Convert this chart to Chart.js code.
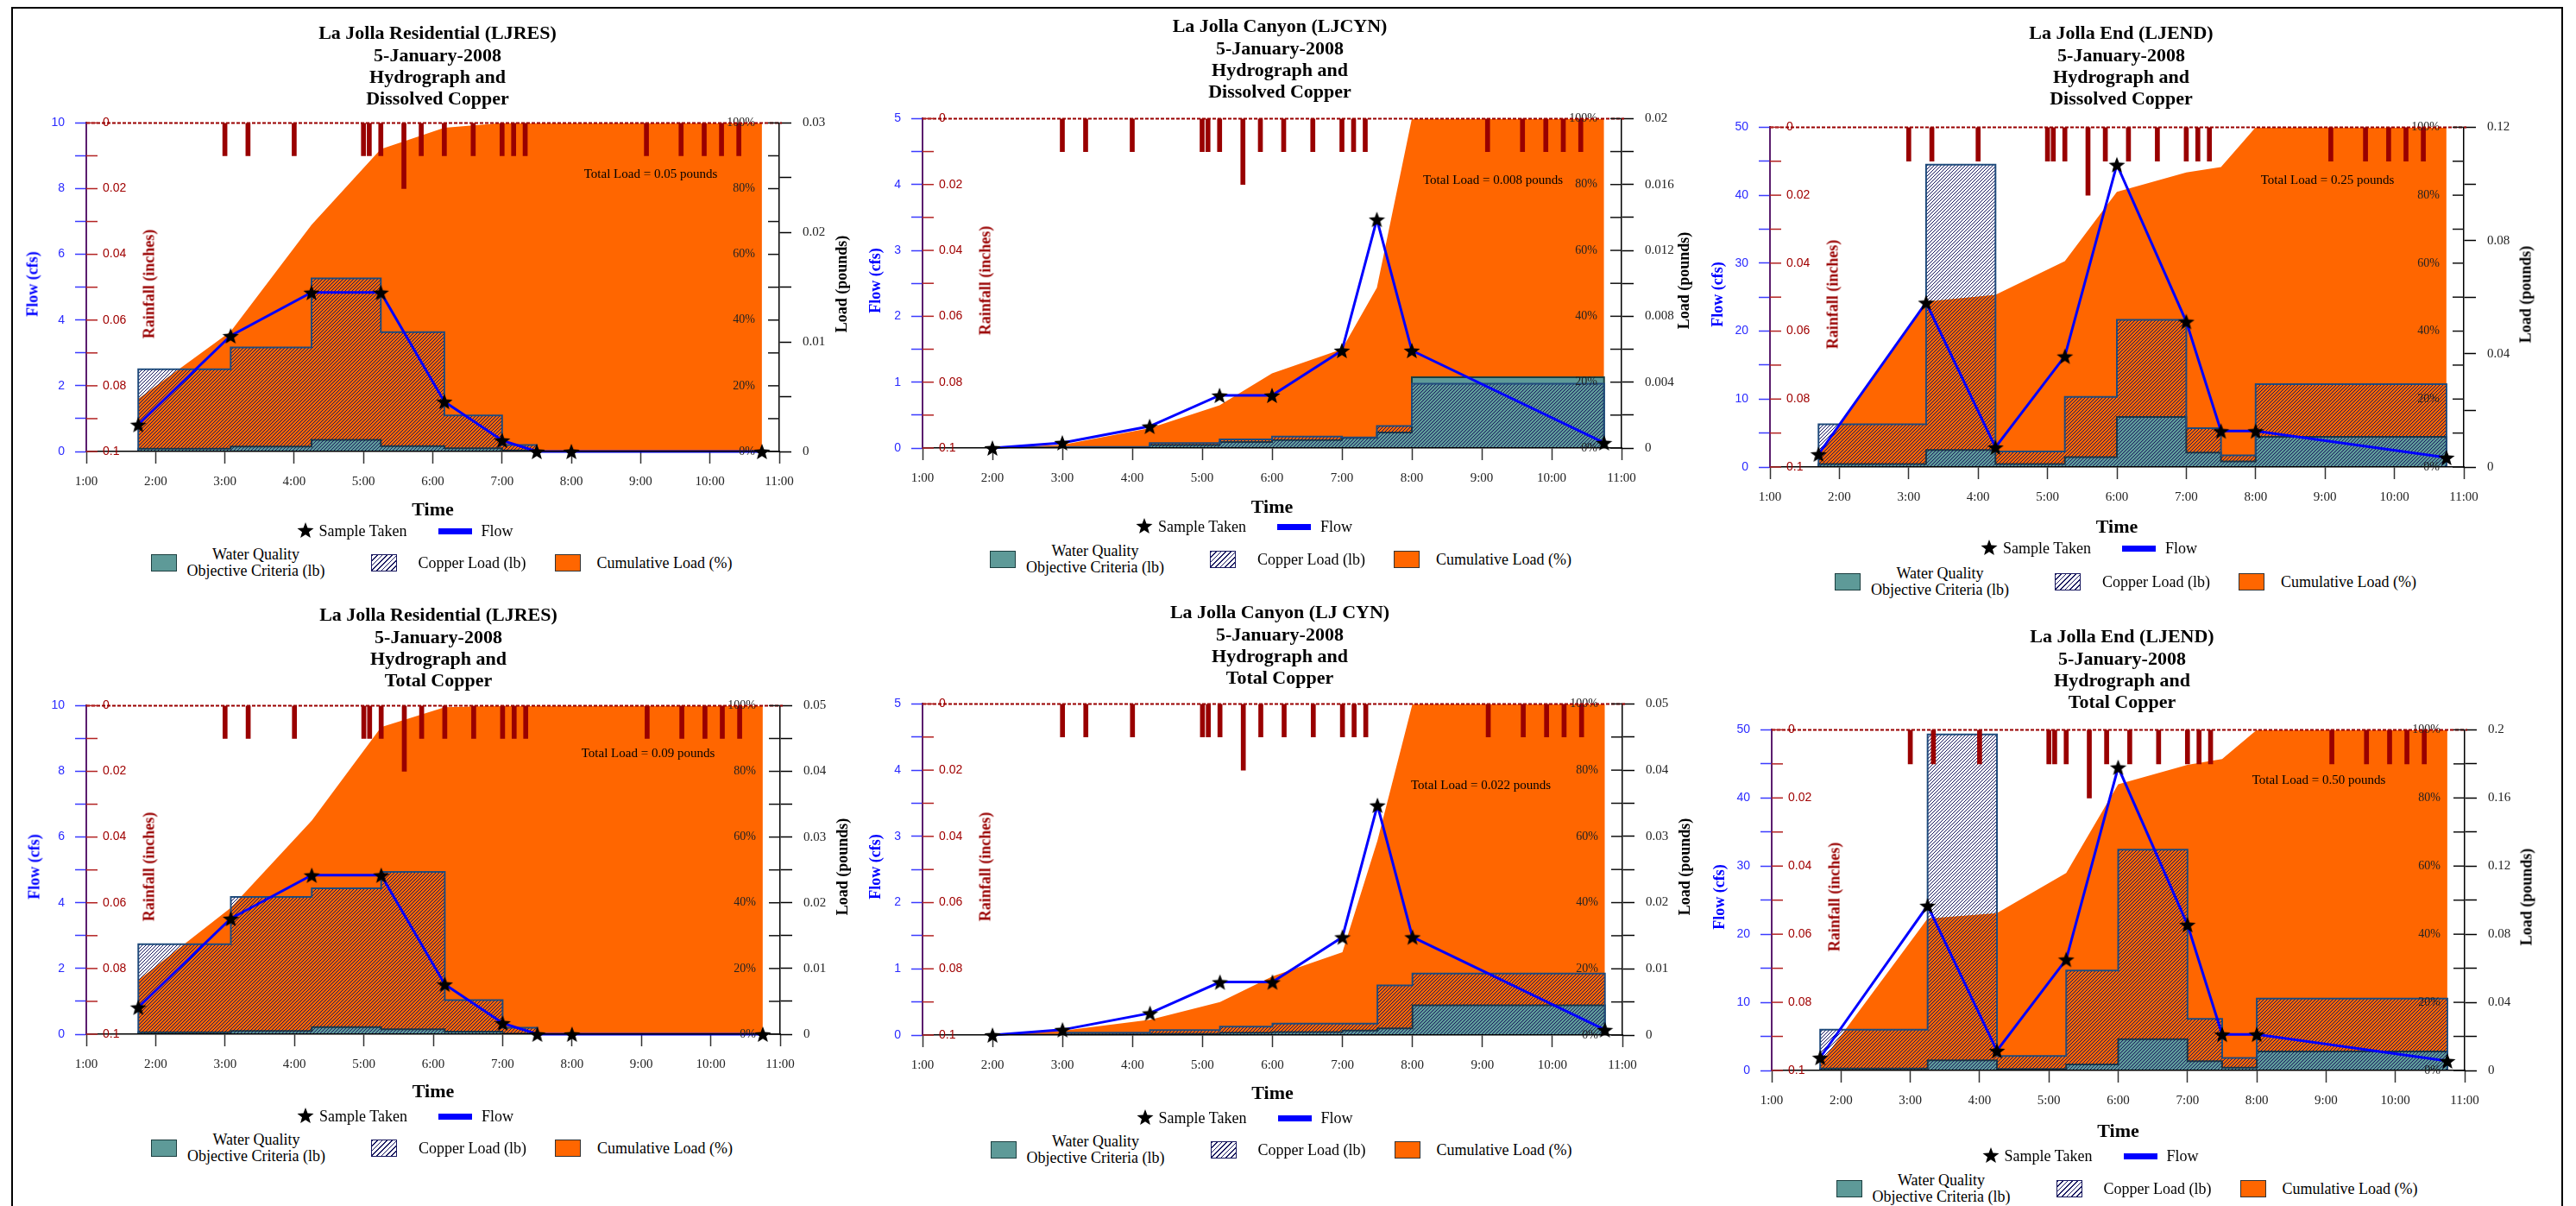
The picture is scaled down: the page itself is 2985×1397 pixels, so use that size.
<!DOCTYPE html>
<html>
<head>
<meta charset="utf-8">
<title>La Jolla hydrographs and copper loads, 5 January 2008</title>
<script src="https://cdn.jsdelivr.net/npm/chart.js@4.4.1/dist/chart.umd.min.js"></script>
<style>
  html, body { margin: 0; padding: 0; background: #fff; }
  body { width: 2985px; height: 1397px; position: relative; overflow: hidden;
         font-family: "Liberation Serif", "Times New Roman", serif; color: #000; }
  .frame { position: absolute; left: 13px; top: 8px; width: 2957px; height: 1400px;
           border: 2px solid #000; box-sizing: border-box; }
  canvas { position: absolute; z-index: 1; }
  .txt { position: absolute; white-space: nowrap; z-index: 2; }
  .ttl { font-weight: bold; font-size: 22px; line-height: 25.3px; text-align: center; transform: translateX(-50%); }
  .axt { font-weight: bold; font-size: 18px; transform: translate(-50%, -50%) rotate(-90deg); }
  .leg { font-size: 18px; line-height: 19px; }
  .sw { position: absolute; box-sizing: border-box; z-index: 2; }
</style>
</head>
<body>
<div class="frame"></div>
<script>
const SERIF = "'Liberation Serif', 'Times New Roman', serif"
const SANS = "'Liberation Sans', Arial, sans-serif"

const hourLabels = ["1:00", "2:00", "3:00", "4:00", "5:00", "6:00", "7:00", "8:00", "9:00", "10:00", "11:00"]

// rain gauge, same storm for every station
const rainTimes = ["3:00", "3:20", "4:00", "5:00", "5:05", "5:15", "5:35", "5:50", "6:10", "6:35",
                   "7:00", "7:10", "7:20", "9:05", "9:35", "9:55", "10:10", "10:25"]
const rainInches = [0.01, 0.01, 0.01, 0.01, 0.01, 0.01, 0.02, 0.01, 0.01, 0.01,
                    0.01, 0.01, 0.01, 0.01, 0.01, 0.01, 0.01, 0.01]

// sample times and flow (cfs)
const ljresTimes = ["1:45", "3:05", "4:15", "5:15", "6:10", "7:00", "7:30", "8:00", "10:45"]
const ljresFlow = [0.82, 3.52, 4.84, 4.84, 1.52, 0.34, 0, 0, 0]
const ljcynTimes = ["2:00", "3:00", "4:15", "5:15", "6:00", "7:00", "7:30", "8:00", "10:45"]
const ljcynFlow = [0, 0.08, 0.33, 0.8, 0.8, 1.48, 3.47, 1.48, 0.08]
const ljendTimes = ["1:42", "3:15", "4:15", "5:15", "6:00", "7:00", "7:30", "8:00", "10:45"]
const ljendFlow = [1.9, 24.2, 2.9, 16.3, 44.5, 21.4, 5.3, 5.3, 1.4]

// dissolved copper: cumulative % at each sample, loads (lb) per interval between samples
const ljresDisCum = [16, 36.5, 69, 92, 98.5, 100, 100, 100, 100]
const ljresDisCu = [0.0075, 0.0095, 0.0158, 0.0109, 0.0033, 0.0006, 0, 0]
const ljresDisWqo = [0.00025, 0.00045, 0.00106, 0.0005, 0.0003, 0.0001, 0, 0]
const ljcynDisCum = [0, 1, 6, 13, 22.7, 30, 48.7, 100, 100]
const ljcynDisCu = [0.00003, 0.00007, 0.0003, 0.00053, 0.00069, 0.00064, 0.00133, 0.0039]
const ljcynDisWqo = [0.00002, 0.00005, 0.00018, 0.00037, 0.00048, 0.00062, 0.00094, 0.0043]
const ljendDisCum = [3.7, 48.7, 50.7, 60.6, 81, 86.7, 88.3, 100, 100]
const ljendDisCu = [0.0151, 0.1068, 0.0055, 0.0248, 0.052, 0.0137, 0.0041, 0.0293]
const ljendDisWqo = [0.0011, 0.006, 0.0011, 0.0035, 0.0177, 0.0051, 0.002, 0.0107]

// total copper
const ljresTotCum = [16.5, 38.5, 65, 93.5, 99.5, 100, 100, 100, 100]
const ljresTotCu = [0.0137, 0.0209, 0.0222, 0.0247, 0.0052, 0.001, 0, 0]
const ljresTotWqo = [0.0003, 0.0005, 0.0011, 0.00075, 0.0004, 0.0001, 0, 0]
const ljcynTotCum = [0, 1.3, 4.6, 10, 17.7, 25, 58.7, 100, 100]
const ljcynTotCu = [0.00003, 0.00035, 0.00075, 0.00127, 0.00173, 0.00173, 0.0075, 0.0093]
const ljcynTotWqo = [0.00002, 0.0001, 0.0002, 0.00035, 0.00046, 0.0007, 0.001, 0.0045]
const ljendTotCum = [2, 44.6, 46.2, 58, 84, 89.7, 91.4, 100, 100]
const ljendTotCu = [0.024, 0.1973, 0.0085, 0.0587, 0.1296, 0.0303, 0.0074, 0.0422]
const ljendTotWqo = [0.0011, 0.006, 0.0009, 0.0036, 0.0184, 0.0054, 0.0016, 0.0112]

const panels = [
  { name: "La Jolla Residential (LJRES)", kind: "Dissolved Copper", totalLoad: "0.05",
    times: ljresTimes, flow: ljresFlow, cum: ljresDisCum, cu: ljresDisCu, wqo: ljresDisWqo,
    flowMax: 10, loadMax: 0.03, loadStep: 0.005 },
  { name: "La Jolla Canyon (LJCYN)", kind: "Dissolved Copper", totalLoad: "0.008",
    times: ljcynTimes, flow: ljcynFlow, cum: ljcynDisCum, cu: ljcynDisCu, wqo: ljcynDisWqo,
    flowMax: 5, loadMax: 0.02, loadStep: 0.002 },
  { name: "La Jolla End (LJEND)", kind: "Dissolved Copper", totalLoad: "0.25",
    times: ljendTimes, flow: ljendFlow, cum: ljendDisCum, cu: ljendDisCu, wqo: ljendDisWqo,
    flowMax: 50, loadMax: 0.12, loadStep: 0.02 },
  { name: "La Jolla Residential (LJRES)", kind: "Total Copper", totalLoad: "0.09",
    times: ljresTimes, flow: ljresFlow, cum: ljresTotCum, cu: ljresTotCu, wqo: ljresTotWqo,
    flowMax: 10, loadMax: 0.05, loadStep: 0.005 },
  { name: "La Jolla Canyon (LJ CYN)", kind: "Total Copper", totalLoad: "0.022",
    times: ljcynTimes, flow: ljcynFlow, cum: ljcynTotCum, cu: ljcynTotCu, wqo: ljcynTotWqo,
    flowMax: 5, loadMax: 0.05, loadStep: 0.005 },
  { name: "La Jolla End (LJEND)", kind: "Total Copper", totalLoad: "0.50",
    times: ljendTimes, flow: ljendFlow, cum: ljendTotCum, cu: ljendTotCu, wqo: ljendTotWqo,
    flowMax: 50, loadMax: 0.2, loadStep: 0.02 }
]

// where each plot sits on the page: chart area [left, top, right, bottom] and text anchors
const layout = [
  { area: [100, 135, 903, 523], titleAt: [507, 38], totalAt: [754, 201], flowGap: 62, timeGap: 67, legendY: [615, 652] },
  { area: [1069, 130, 1879, 519], titleAt: [1483, 30], totalAt: [1730, 208], flowGap: 55, timeGap: 68, legendY: [610, 648] },
  { area: [2051, 140, 2855, 541], titleAt: [2458, 38], totalAt: [2697, 208], flowGap: 61, timeGap: 69, legendY: [635, 674] },
  { area: [100, 810, 904, 1198], titleAt: [508, 712], totalAt: [751, 872], flowGap: 60, timeGap: 66, legendY: [1293, 1330] },
  { area: [1069, 808, 1880, 1199], titleAt: [1483, 709], totalAt: [1716, 909], flowGap: 55, timeGap: 67, legendY: [1295, 1332] },
  { area: [2053, 838, 2856, 1240], titleAt: [2459, 737], totalAt: [2687, 903], flowGap: 61, timeGap: 70, legendY: [1339, 1377] }
]

const LEFT_W = 86, RIGHT_W = 90, TOP_PAD = 20, X_H = 85

const toHours = s => { const [h, m] = s.split(":").map(Number); return h + m / 60 }
const fmt = v => String(parseFloat(v.toFixed(4)))

// interval loads drawn as steps: value i holds from sample i to sample i+1
function stepPoints(times, values) {
  const t = times.map(toHours)
  const pts = [{ x: t[0], y: 0 }]
  values.forEach((v, i) => pts.push({ x: t[i], y: v }))
  pts.push({ x: t[t.length - 1], y: 0 })
  return pts
}

function starImage(size) {
  const c = document.createElement("canvas")
  c.width = c.height = size
  const g = c.getContext("2d")
  const r = size / 2, ri = r * 0.42
  g.beginPath()
  for (let i = 0; i < 10; i++) {
    const a = -Math.PI / 2 + i * Math.PI / 5
    const rr = i % 2 ? ri : r
    g.lineTo(r + rr * Math.cos(a), r + 1 + rr * Math.sin(a))
  }
  g.closePath()
  g.fillStyle = "#000"
  g.fill()
  return c
}

function hatchPattern(ctx) {
  const p = 4
  const c = document.createElement("canvas")
  c.width = c.height = p
  const g = c.getContext("2d")
  g.strokeStyle = "#16165e"
  g.lineWidth = 1
  g.beginPath()
  g.moveTo(0, p); g.lineTo(p, 0)
  g.moveTo(-1, 1); g.lineTo(1, -1)
  g.moveTo(p - 1, p + 1); g.lineTo(p + 1, p - 1)
  g.stroke()
  return ctx.createPattern(c, "repeat")
}

const STAR = starImage(20)

// rainfall zero line (dashed, along the top) plus the short inner tick marks
// of the rainfall and percent axes
const innerTicks = {
  id: "innerTicks",
  afterDraw(chart) {
    const { ctx, chartArea: a, scales } = chart
    ctx.save()
    const y0 = scales.yRain.getPixelForValue(0)
    ctx.strokeStyle = "#990000"
    ctx.lineWidth = 2
    ctx.setLineDash([4, 2])
    ctx.beginPath(); ctx.moveTo(a.left, y0); ctx.lineTo(a.right + 3, y0); ctx.stroke()
    ctx.setLineDash([])
    ctx.lineWidth = 1.5
    ctx.strokeStyle = "#b22222"
    scales.yRain.ticks.forEach(t => {
      const y = scales.yRain.getPixelForValue(t.value)
      ctx.beginPath(); ctx.moveTo(a.left, y); ctx.lineTo(a.left + 13, y); ctx.stroke()
    })
    ctx.strokeStyle = "#111"
    scales.yPct.ticks.forEach(t => {
      const y = scales.yPct.getPixelForValue(t.value)
      ctx.beginPath(); ctx.moveTo(a.right - 13, y); ctx.lineTo(a.right, y); ctx.stroke()
    })
    ctx.restore()
  }
}

function addText(html, x, y, cls, css, transform) {
  const d = document.createElement("div")
  d.className = "txt " + (cls || "")
  d.innerHTML = html
  d.style.left = x + "px"
  d.style.top = y + "px"
  if (transform) d.style.transform = transform
  Object.assign(d.style, css || {})
  document.body.appendChild(d)
  return d
}

function addSwatch(x, y, w, h, css) {
  const d = document.createElement("div")
  d.className = "sw"
  Object.assign(d.style, { left: x + "px", top: y + "px", width: w + "px", height: h + "px" }, css)
  document.body.appendChild(d)
}

function drawLegend(cx, y1, y2) {
  const img = document.createElement("img")
  img.src = STAR.toDataURL()
  Object.assign(img.style, { position: "absolute", left: (cx - 158) + "px", top: (y1 - 11) + "px", zIndex: 2 })
  document.body.appendChild(img)
  addText("Sample Taken", cx - 132, y1, "leg", null, "translateY(-50%)")
  addSwatch(cx + 6, y1 - 3.5, 39, 7, { background: "#0000ff" })
  addText("Flow", cx + 56, y1, "leg", null, "translateY(-50%)")

  addSwatch(cx - 327, y2 - 10, 30, 20, { background: "#5e9a98", border: "1.5px solid #1c3f40" })
  addText("Water Quality<br>Objective Criteria (lb)", cx - 205, y2, "leg", { textAlign: "center" }, "translate(-50%,-50%)")
  addSwatch(cx - 72, y2 - 10, 30, 20, {
    background: "repeating-linear-gradient(135deg, #16165e 0 1px, #fff 1px 4px)",
    border: "1.5px solid #16165e"
  })
  addText("Copper Load (lb)", cx - 17, y2, "leg", null, "translateY(-50%)")
  addSwatch(cx + 141, y2 - 10, 30, 20, { background: "#ff6600", border: "1.5px solid #333" })
  addText("Cumulative Load (%)", cx + 190, y2, "leg", null, "translateY(-50%)")
}

function drawPanel(p, L) {
  const [AL, AT, AR, AB] = L.area
  const left = AL - LEFT_W, top = AT - TOP_PAD, right = AR + RIGHT_W, bottom = AB + X_H
  const canvas = document.createElement("canvas")
  canvas.width = right - left
  canvas.height = bottom - top
  canvas.style.left = left + "px"
  canvas.style.top = top + "px"
  document.body.appendChild(canvas)
  const ctx = canvas.getContext("2d")

  const t = p.times.map(toHours)
  const flowPts = t.map((x, i) => ({ x, y: p.flow[i] }))
  const cumPts = t.map((x, i) => ({ x, y: p.cum[i] }))
  const rainPts = rainTimes.map((s, i) => ({ x: toHours(s), y: rainInches[i] }))

  new Chart(ctx, {
    type: "line",
    data: {
      datasets: [
        { type: "line", label: "Flow", data: flowPts, yAxisID: "yFlow", order: 0,
          borderColor: "#0000ff", borderWidth: 3, tension: 0, fill: false, clip: false,
          pointStyle: STAR, pointRadius: 9 },
        { type: "bar", label: "Rainfall", data: rainPts, yAxisID: "yRain", order: 1,
          backgroundColor: "#990000", borderWidth: 0, barThickness: 5 },
        { type: "line", label: "Copper Load (lb)", data: stepPoints(p.times, p.cu), yAxisID: "yLoad", order: 2,
          stepped: true, fill: "origin", backgroundColor: hatchPattern(ctx),
          borderColor: "#1f4b7c", borderWidth: 2, pointRadius: 0 },
        { type: "line", label: "Water Quality Objective Criteria (lb)", data: stepPoints(p.times, p.wqo), yAxisID: "yLoad", order: 3,
          stepped: true, fill: "origin", backgroundColor: "#5e9a98",
          borderColor: "#1c3f40", borderWidth: 2, pointRadius: 0 },
        { type: "line", label: "Cumulative Load (%)", data: cumPts, yAxisID: "yPct", order: 4,
          fill: "origin", backgroundColor: "#ff6600", borderColor: "transparent", borderWidth: 0,
          tension: 0, pointRadius: 0 }
      ]
    },
    options: {
      responsive: false,
      animation: false,
      events: [],
      layout: { padding: { top: TOP_PAD, left: 0, right: 0, bottom: 0 } },
      plugins: { legend: { display: false }, tooltip: { enabled: false }, title: { display: false } },
      scales: {
        x: {
          type: "linear", min: 1, max: 11, offset: false,
          afterFit: s => { s.height = X_H },
          ticks: { stepSize: 1, autoSkip: false, maxRotation: 0, padding: 12, color: "#222",
                   font: { family: SERIF, size: 15 }, callback: (v, i) => hourLabels[i] },
          grid: { offset: false, drawOnChartArea: false, tickLength: 14, tickColor: "#333", tickWidth: 1.5 },
          border: { color: "#000", width: 1.5, z: 1 }
        },
        yFlow: {
          type: "linear", position: "left", weight: 1, min: 0, max: p.flowMax,
          afterFit: s => { s.width = LEFT_W },
          ticks: { stepSize: p.flowMax / 10, autoSkip: false, padding: 12, color: "#2a2aff",
                   font: { family: SANS, size: 14 }, callback: (v, i) => i % 2 ? "" : String(v) },
          grid: { drawOnChartArea: false, tickLength: 13, tickColor: "#3a3aff", tickWidth: 1.5 },
          border: { color: "#5b1d6e", width: 2, z: 1 }
        },
        yRain: {
          type: "linear", position: "left", weight: 0, reverse: true, min: 0, max: 0.1,
          afterFit: s => { s.width = 0 },
          ticks: { stepSize: 0.01, autoSkip: false, mirror: true, padding: 19, z: 1, color: "#a00000",
                   font: { family: SANS, size: 14 }, callback: (v, i) => i % 2 ? "" : fmt(v) },
          grid: { display: false },
          border: { display: false }
        },
        yPct: {
          type: "linear", position: "right", weight: 0, min: 0, max: 100,
          afterFit: s => { s.width = 0 },
          ticks: { stepSize: 10, autoSkip: false, mirror: true, padding: -28, z: 1, color: "#222",
                   font: { family: SERIF, size: 14 }, callback: (v, i) => i % 2 ? "" : v + "%" },
          grid: { display: false },
          border: { display: false }
        },
        yLoad: {
          type: "linear", position: "right", weight: 1, min: 0, max: p.loadMax,
          afterFit: s => { s.width = RIGHT_W },
          ticks: { stepSize: p.loadStep, autoSkip: false, padding: 13, color: "#222",
                   font: { family: SERIF, size: 15 }, callback: (v, i) => i % 2 ? "" : fmt(v) },
          grid: { drawOnChartArea: false, tickLength: 14, tickColor: "#000", tickWidth: 1.5 },
          border: { color: "#000", width: 1.5, z: 1 }
        }
      }
    },
    plugins: [innerTicks]
  })

  // titles and axis names
  const [tx, ty] = L.titleAt
  addText([p.name, "5-January-2008", "Hydrograph and", p.kind].join("<br>"), tx, ty - 12.65, "ttl")
  const mid = (AT + AB) / 2
  addText("Flow (cfs)", AL - L.flowGap, mid, "axt", { color: "#0000ff" })
  addText("Rainfall (inches)", AL + 72.5, mid, "axt", { color: "#990000" })
  addText("Load (pounds)", AR + 72, mid, "axt")
  addText("Time", (AL + AR) / 2, AB + L.timeGap, "", { fontWeight: "bold", fontSize: "22px" }, "translate(-50%,-50%)")
  addText("Total Load = " + p.totalLoad + " pounds", L.totalAt[0], L.totalAt[1], "", { fontSize: "15px" }, "translate(-50%,-50%)")
  drawLegend((AL + AR) / 2, L.legendY[0], L.legendY[1])
}

panels.forEach((p, i) => drawPanel(p, layout[i]))
</script>
</body>
</html>
